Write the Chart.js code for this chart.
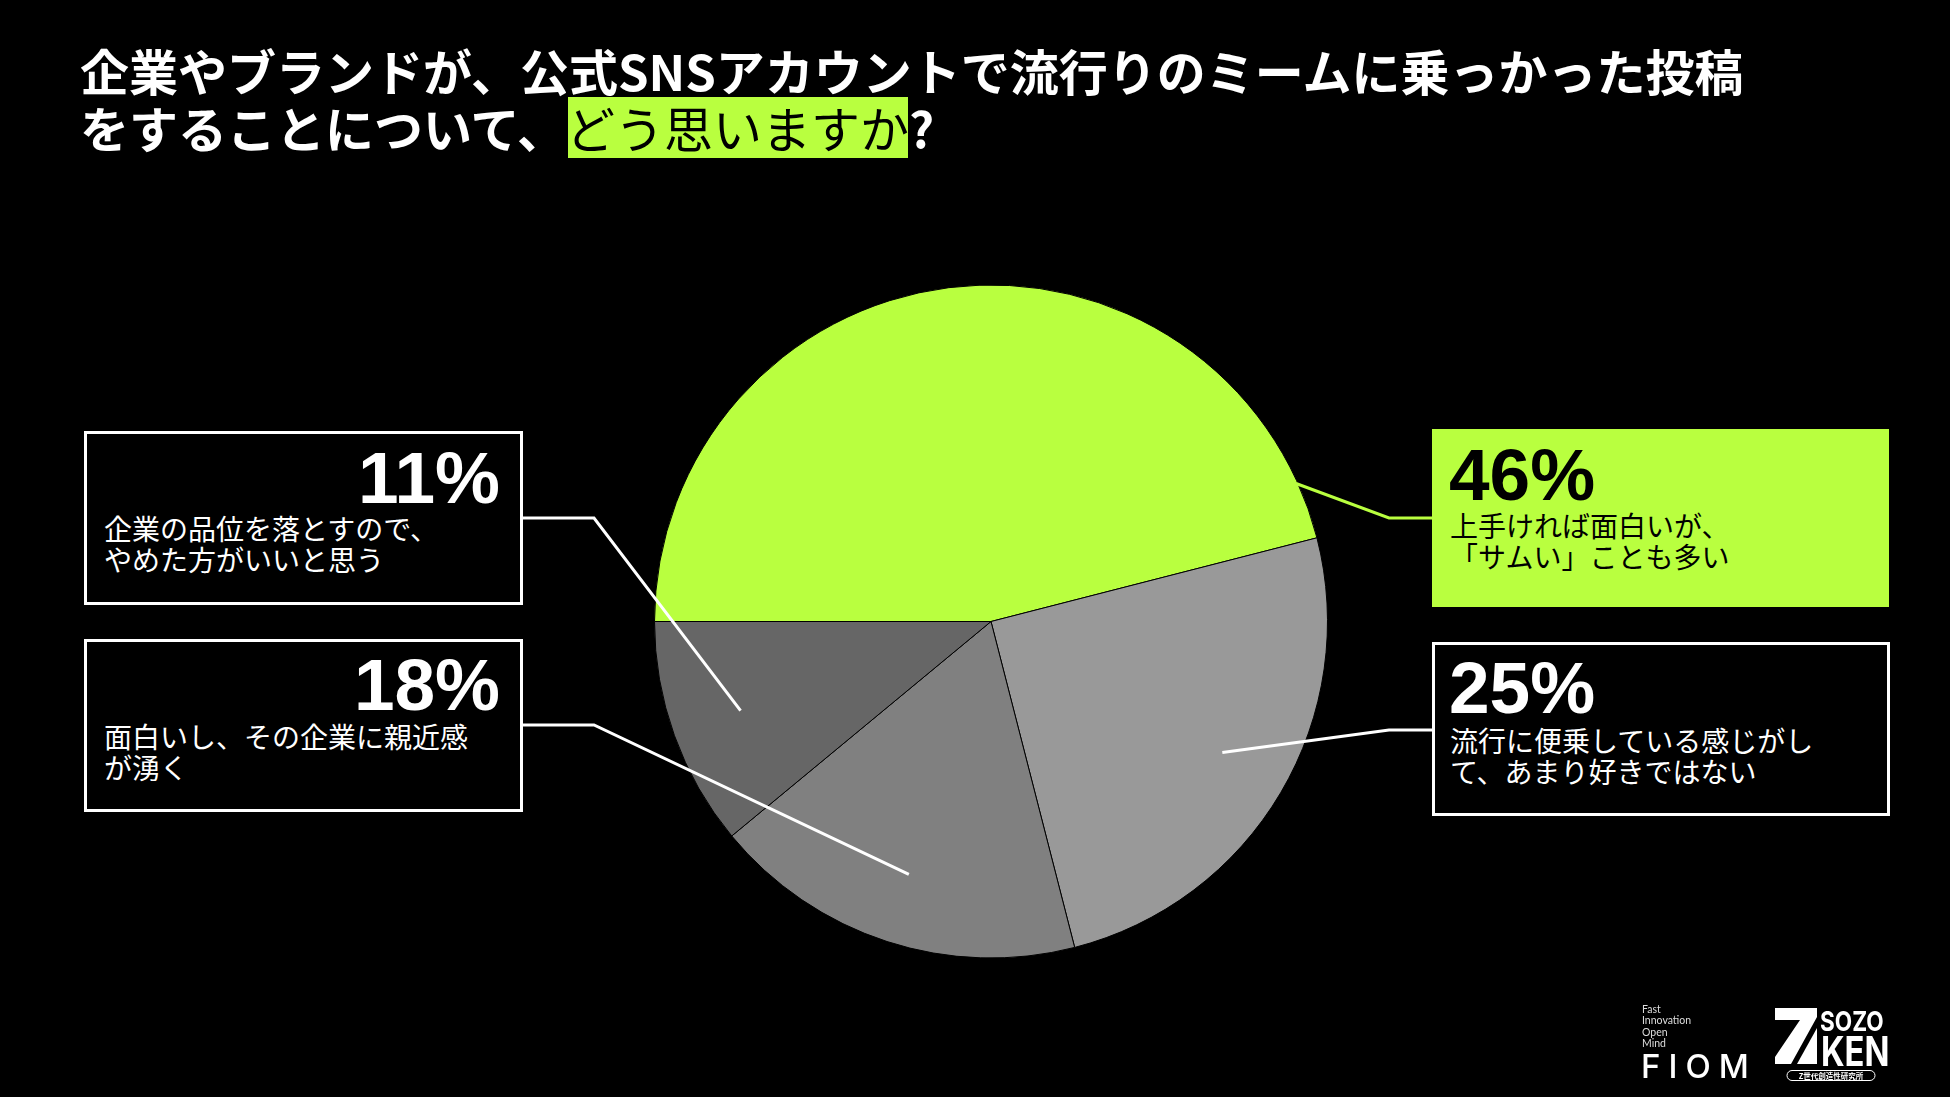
<!DOCTYPE html>
<html lang="ja">
<head>
<meta charset="utf-8">
<script src="https://cdn.jsdelivr.net/npm/chart.js@4.4.1/dist/chart.umd.min.js"></script>
<style>
html,body{margin:0;padding:0;background:#000;}
#page{position:relative;width:1950px;height:1097px;overflow:hidden;background:#000;font-family:"Noto Sans CJK JP","Noto Sans",sans-serif;}
#chart{position:absolute;left:0;top:0;z-index:1;}
.abs{position:absolute;white-space:nowrap;}
#hl{position:absolute;left:568px;top:97px;width:340px;height:61px;background:#b9ff3f;z-index:2;}
#title{left:80px;top:41px;font-size:49px;line-height:57px;font-weight:700;color:#fff;z-index:3;}
#title .q{color:#000;font-weight:400;}
.box{position:absolute;box-sizing:border-box;z-index:3;}
.box.out{border:3px solid #fff;}
.pct{position:absolute;font-family:"Liberation Sans",Arial,sans-serif;font-weight:700;font-size:73px;line-height:73px;white-space:nowrap;z-index:4;}
.desc{position:absolute;font-size:28px;line-height:31px;font-weight:400;white-space:nowrap;z-index:4;}
.logo{color:#fff;z-index:4;}
</style>
</head>
<body>
<div id="page">
  <canvas id="chart" width="1950" height="1097"></canvas>
  <div id="hl"></div>
  <div id="title" class="abs"></div>
  <div id="labels"></div>

  <!-- logos -->
  <div class="abs logo" style="left:1642px;top:1004px;font-family:Lato,'Liberation Sans',sans-serif;font-size:10.5px;line-height:11.3px;color:#ddd;">Fast<br>Innovation<br>Open<br>Mind</div>
  <div class="abs logo" style="left:1641px;top:1050px;font-family:Inter,Lato,sans-serif;font-size:33px;line-height:33px;font-weight:500;letter-spacing:8px;">FIOM</div>
  <svg class="abs logo" style="left:0;top:0;z-index:4" width="1950" height="1097">
    <polygon fill="#fff" points="1775,1008 1817,1008 1817,1017 1791,1064 1775,1064 1775,1057 1800,1020 1775,1020"/>
    <polygon fill="#fff" points="1797,1064 1817,1064 1817,1028"/>
    <rect x="1787" y="1070.5" width="88" height="10" rx="5" ry="5" fill="none" stroke="#fff" stroke-width="1"/>
  </svg>
  <div class="abs logo" style="left:1820px;top:1008px;font-family:Inter,'Liberation Sans',sans-serif;font-size:27.5px;line-height:27.5px;font-weight:700;transform:scaleX(0.82);transform-origin:left top;">SOZO</div>
  <div class="abs logo" style="left:1821px;top:1031px;font-family:Inter,'Liberation Sans',sans-serif;font-size:41px;line-height:41px;font-weight:700;transform:scaleX(0.8);transform-origin:left top;">KEN</div>
  <div class="abs logo" style="left:1787px;top:1070px;width:88px;text-align:center;font-size:7.5px;line-height:11px;font-weight:700;">Z世代創造性研究所</div>
</div>

<script>
// ---- data ----
const titleLine1 = '企業やブランドが、公式SNSアカウントで流行りのミームに乗っかった投稿';
const titleLine2a = 'をすることについて、';
const titleHighlight = 'どう思いますか';
const titleLine2b = '?';

const categories = [
  '上手ければ面白いが、「サムい」ことも多い',
  '流行に便乗している感じがして、あまり好きではない',
  '面白いし、その企業に親近感が湧く',
  '企業の品位を落とすので、やめた方がいいと思う'
];
const values = [46, 25, 18, 11];
const descLines = [
  ['上手ければ面白いが、', '「サムい」ことも多い'],
  ['流行に便乗している感じがし', 'て、あまり好きではない'],
  ['面白いし、その企業に親近感', 'が湧く'],
  ['企業の品位を落とすので、', 'やめた方がいいと思う']
];
const sliceColors = ['#b9ff3f', '#999999', '#808080', '#666666'];

// ---- layout (positions / styles) ----
const GREEN = '#b9ff3f';
const boxLayout = [
  {left:1432, top:429, width:457, height:178, fill:true,  align:'left',  pctX:1449, pctBase:500, descX:1450, descTop:510, from:[1432,518], elbow:[1389,518], angleFrac:0.94,  radiusFrac:0.995, lineColor:GREEN},
  {left:1432, top:642, width:458, height:174, fill:false, align:'left',  pctX:1449, pctBase:713, descX:1450, descTop:725, from:[1432,730], elbow:[1389,730], angleFrac:0.488, radiusFrac:0.79,  lineColor:'#fff'},
  {left:84,   top:639, width:439, height:173, fill:false, align:'right', pctX:500,  pctBase:710, descX:104,  descTop:721, from:[523,725],  elbow:[594,725],  angleFrac:0.5,   radiusFrac:0.79,  lineColor:'#fff'},
  {left:84,   top:431, width:439, height:174, fill:false, align:'right', pctX:500,  pctBase:503, descX:104,  descTop:513, from:[523,518],  elbow:[594,518],  angleFrac:0.505, radiusFrac:0.79,  lineColor:'#fff'}
];

// title
const t = document.getElementById('title');
t.appendChild(document.createTextNode(titleLine1));
t.appendChild(document.createElement('br'));
t.appendChild(document.createTextNode(titleLine2a));
const hs = document.createElement('span'); hs.className = 'q'; hs.textContent = titleHighlight; t.appendChild(hs);
t.appendChild(document.createTextNode(titleLine2b));

// label boxes
const lab = document.getElementById('labels');
values.forEach((v, i) => {
  const L = boxLayout[i];
  const color = L.fill ? '#000' : '#fff';
  const b = document.createElement('div');
  b.className = 'box' + (L.fill ? '' : ' out');
  Object.assign(b.style, {left:L.left+'px', top:L.top+'px', width:L.width+'px', height:L.height+'px', background: L.fill ? GREEN : '#000'});
  lab.appendChild(b);
  const p = document.createElement('div');
  p.className = 'pct';
  p.textContent = v + '%';
  p.style.color = color;
  p.style.top = (L.pctBase - 61.8) + 'px';
  if (L.align === 'right') {
    p.style.left = L.left + 'px'; p.style.width = (L.pctX - L.left) + 'px'; p.style.textAlign = 'right';
  } else {
    p.style.left = L.pctX + 'px';
  }
  lab.appendChild(p);
  const d = document.createElement('div');
  d.className = 'desc';
  d.style.color = color;
  d.style.left = L.descX + 'px';
  d.style.top = L.descTop + 'px';
  descLines[i].forEach((ln, k) => { if (k) d.appendChild(document.createElement('br')); d.appendChild(document.createTextNode(ln)); });
  lab.appendChild(d);
});

// leader lines drawn from the library's arc geometry
const leaderPlugin = {
  id: 'leaders',
  afterDatasetsDraw(chart) {
    const ctx = chart.ctx;
    const meta = chart.getDatasetMeta(0);
    meta.data.forEach((arc, i) => {
      const L = boxLayout[i];
      const pr = arc.getProps(['x','y','startAngle','endAngle','outerRadius'], true);
      const a = pr.startAngle + L.angleFrac * (pr.endAngle - pr.startAngle);
      const r = pr.outerRadius * L.radiusFrac;
      const tx = pr.x + r * Math.cos(a), ty = pr.y + r * Math.sin(a);
      ctx.save();
      ctx.strokeStyle = L.lineColor;
      ctx.lineWidth = 3;
      ctx.lineJoin = 'miter';
      ctx.beginPath();
      ctx.moveTo(L.from[0], L.from[1]);
      ctx.lineTo(L.elbow[0], L.elbow[1]);
      ctx.lineTo(tx, ty);
      ctx.stroke();
      ctx.restore();
    });
  }
};

new Chart(document.getElementById('chart'), {
  type: 'pie',
  data: {
    labels: categories,
    datasets: [{
      data: values,
      backgroundColor: sliceColors,
      borderColor: '#000',
      borderWidth: 1,
      hoverBorderWidth: 1,
      hoverOffset: 0
    }]
  },
  options: {
    responsive: false,
    animation: false,
    events: [],
    rotation: -90,
    layout: {padding: {left: 654, right: 622, top: 284, bottom: 138}},
    plugins: {legend: {display: false}, tooltip: {enabled: false}}
  },
  plugins: [leaderPlugin]
});
</script>
</body>
</html>
